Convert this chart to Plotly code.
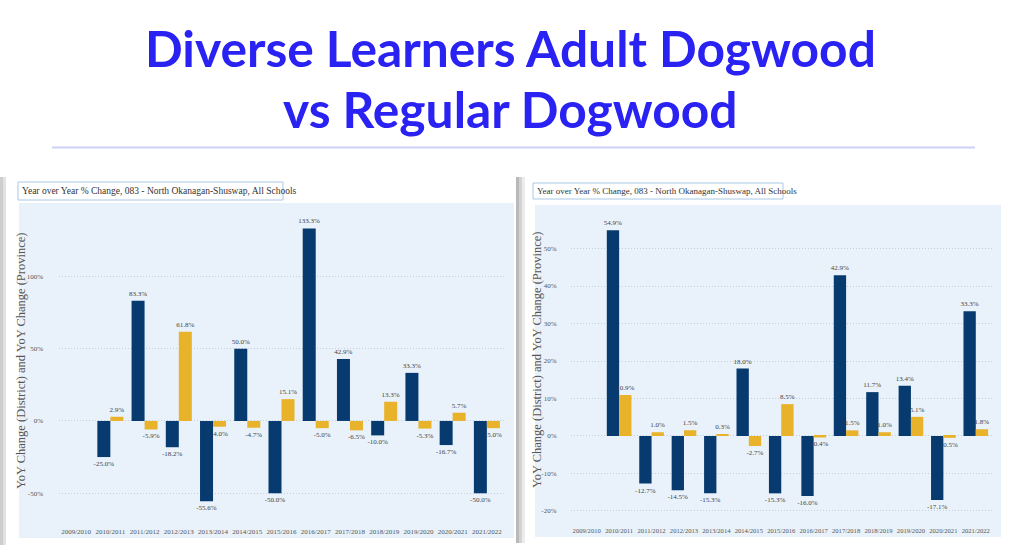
import plotly.graph_objects as go

W, H = 1024, 554

years = ["2009/2010", "2010/2011", "2011/2012", "2012/2013", "2013/2014", "2014/2015",
         "2015/2016", "2016/2017", "2017/2018", "2018/2019", "2019/2020", "2020/2021", "2021/2022"]

left_district = [None, -25.0, 83.3, -18.2, -55.6, 50.0, -50.0, 133.3, 42.9, -10.0, 33.3, -16.7, -50.0]
left_province = [None, 2.9, -5.9, 61.8, -4.0, -4.7, 15.1, -5.0, -6.5, 13.3, -5.3, 5.7, -5.0]

right_district = [None, 54.9, -12.7, -14.5, -15.3, 18.0, -15.3, -16.0, 42.9, 11.7, 13.4, -17.1, 33.3]
right_province = [None, 10.9, 1.0, 1.5, 0.3, -2.7, 8.5, -0.4, 1.5, 1.0, 5.1, -0.5, 1.8]

left_ticks = [-50, 0, 50, 100]
right_ticks = [-20, -10, 0, 10, 20, 30, 40, 50]

main_title_1 = "Diverse Learners Adult Dogwood"
main_title_2 = "vs Regular Dogwood"
chart_title = "Year over Year % Change, 083 - North Okanagan-Shuswap, All Schools"
y_title = "YoY Change (District) and YoY Change (Province)"

NAVY = "#073b6f"
GOLD = "#e8b22a"
BG = "#e9f2fa"
SERIF = "Liberation Serif, Times New Roman, serif"
GRID_DASH = "1px,2px"


def px(x):
    return x / W


def py(y):
    return 1 - y / H


def labels(vals):
    return ["" if v is None else f"{v:.1f}%" for v in vals]


fig = go.Figure()

for vals, col, xa, ya in [
    (left_district, NAVY, "x", "y"),
    (left_province, GOLD, "x", "y"),
    (right_district, NAVY, "x2", "y2"),
    (right_province, GOLD, "x2", "y2"),
]:
    fig.add_trace(go.Bar(
        x=years, y=vals, marker=dict(color=col, line=dict(width=0)),
        text=labels(vals), textposition="outside", constraintext="none",
        cliponaxis=False,
        textfont=dict(family=SERIF, size=7, color="#444444"),
        xaxis=xa, yaxis=ya, showlegend=False,
    ))

axis_common = dict(showline=False, ticks="", zeroline=False)

fig.update_layout(
    width=W, height=H,
    margin=dict(l=0, r=0, t=0, b=0),
    paper_bgcolor="white", plot_bgcolor="rgba(0,0,0,0)",
    barmode="group", bargap=0.24, bargroupgap=0.0,
    showlegend=False,
    xaxis=dict(domain=[px(59), px(504)], anchor="y", type="category", showgrid=False,
               tickangle=0,
               tickfont=dict(family=SERIF, size=7, color="#555555"), ticklabelstandoff=6,
               **axis_common),
    yaxis=dict(domain=[py(520), py(210)], anchor="x", range=[-68.6, 146.1],
               tickvals=left_ticks, ticktext=[f"{v}%" for v in left_ticks],
               showgrid=True, gridcolor="#c3cfdc", griddash=GRID_DASH, gridwidth=1,
               tickfont=dict(family=SERIF, size=7, color="#555555"), ticklabelstandoff=15,
               **axis_common),
    xaxis2=dict(domain=[px(570.5), px(992)], anchor="y2", type="category", showgrid=False,
                tickangle=0,
                tickfont=dict(family=SERIF, size=6.6, color="#555555"), ticklabelstandoff=7,
                **axis_common),
    yaxis2=dict(domain=[py(518), py(210)], anchor="x2", range=[-21.87, 60.27],
                tickvals=right_ticks, ticktext=[f"{v}%" for v in right_ticks],
                showgrid=True, gridcolor="#c3cfdc", griddash=GRID_DASH, gridwidth=1,
                tickfont=dict(family=SERIF, size=7, color="#555555"), ticklabelstandoff=13,
                **axis_common),
)


def rect(x0, y0, x1, y1, fill, line_color=None, line_width=0, layer="below"):
    fig.add_shape(type="rect", xref="paper", yref="paper",
                  x0=px(x0), x1=px(x1), y0=py(y1), y1=py(y0),
                  fillcolor=fill, line=dict(color=line_color or fill, width=line_width),
                  layer=layer)


# panel borders / backgrounds
rect(0, 177, 3, 545, "#cdcdcd")
rect(3, 177, 6, 545, "#e2e2e2")
rect(19, 203, 514, 538, BG)
rect(516, 177, 519, 543, "#b9b9b9")
rect(519, 177, 522, 543, "#d3d3d3")
rect(522, 177, 525, 543, "#ececec")
rect(535, 205, 1001, 537, BG)

# chart title boxes
rect(18, 182, 283, 200, "white", "#a9c8e6", 1)
rect(533, 183, 783, 199, "white", "#a9c8e6", 1)

# separator line under main title
fig.add_shape(type="line", xref="paper", yref="paper",
              x0=px(52), x1=px(975), y0=py(147.5), y1=py(147.5),
              line=dict(color="#d0d0f8", width=2))

# main title
fig.add_annotation(text=f"<b>{main_title_1}</b>", xref="paper", yref="paper",
                   x=px(510), y=py(48), xanchor="center", yanchor="middle", showarrow=False,
                   font=dict(family="Lato", size=49.7, color="#2a22f2"))
fig.add_annotation(text=f"<b>{main_title_2}</b>", xref="paper", yref="paper",
                   x=px(510), y=py(109), xanchor="center", yanchor="middle", showarrow=False,
                   font=dict(family="Lato", size=49.7, color="#2a22f2"))

# chart titles
fig.add_annotation(text=chart_title, xref="paper", yref="paper",
                   x=px(20), y=py(191), xanchor="left", yanchor="middle", showarrow=False,
                   font=dict(family=SERIF, size=9.5, color="#333333"))
fig.add_annotation(text=chart_title, xref="paper", yref="paper",
                   x=px(535), y=py(191), xanchor="left", yanchor="middle", showarrow=False,
                   font=dict(family=SERIF, size=9, color="#333333"))

# y-axis titles
fig.add_annotation(text=y_title, xref="paper", yref="paper", textangle=-90,
                   x=px(21), y=py(361), xanchor="center", yanchor="middle", showarrow=False,
                   font=dict(family=SERIF, size=12.5, color="#555555"))
fig.add_annotation(text=y_title, xref="paper", yref="paper", textangle=-90,
                   x=px(537), y=py(360), xanchor="center", yanchor="middle", showarrow=False,
                   font=dict(family=SERIF, size=12.5, color="#555555"))

fig.write_html("out.html")
